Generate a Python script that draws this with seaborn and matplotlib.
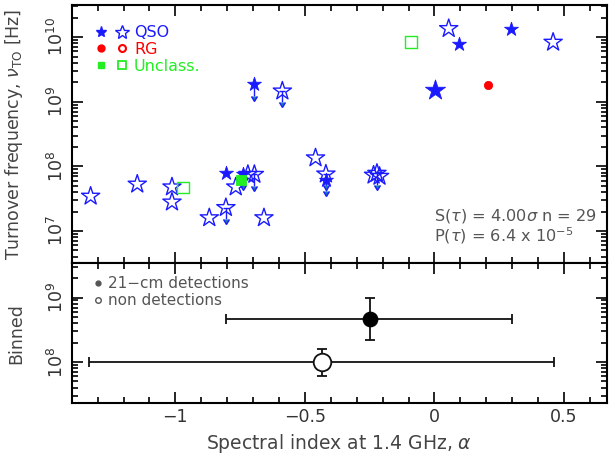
import numpy as np
import pandas as pd
import matplotlib
matplotlib.use("Agg")
import matplotlib.pyplot as plt
import seaborn as sns
from matplotlib.lines import Line2D
from matplotlib.legend_handler import HandlerTuple
from matplotlib.ticker import LogLocator, LogFormatterMathtext, MultipleLocator, NullFormatter

# ---------------- data ----------------
alpha = [-0.698, -0.587, -0.090, 0.055, 0.093, 0.004, 0.205, 0.295, 0.458,
         -1.327, -1.147, -1.013, -0.970, -1.013, -0.869, -0.805, -0.805, -0.767,
         -0.746, -0.740, -0.720, -0.695, -0.658, -0.459, -0.419, -0.419, -0.222,
         -0.235, -0.212]
nu_to = [1.86e9, 1.46e9, 8.3e9, 1.35e10, 7.7e9, 1.5e9, 1.79e9, 1.35e10, 8.3e9,
         3.45e7, 5.3e7, 4.8e7, 4.7e7, 2.8e7, 1.6e7, 2.3e7, 8.0e7, 4.8e7,
         6.1e7, 7.6e7, 7.5e7, 7.5e7, 1.6e7, 1.35e8, 7.6e7, 6.1e7, 7.8e7,
         7.3e7, 7.0e7]
obj_class = ["QSO", "QSO", "Unclass.", "QSO", "QSO", "QSO", "RG", "QSO", "QSO",
             "QSO", "QSO", "QSO", "Unclass.", "QSO", "QSO", "QSO", "QSO", "QSO",
             "Unclass.", "QSO", "QSO", "QSO", "QSO", "QSO", "QSO", "QSO", "QSO",
             "QSO", "QSO"]
detected = [True, False, False, False, True, True, True, True, False,
            False, False, False, False, False, False, False, True, False,
            True, True, False, False, False, False, False, True, False,
            False, False]
upper_limit = [True, True, False, False, False, False, False, False, False,
               False, False, False, False, False, False, True, False, False,
               False, True, False, True, False, False, True, True, True,
               False, False]
big_marker = [False, False, False, False, False, True, False, False, False,
              False, False, False, False, False, False, False, False, False,
              False, False, False, False, False, False, False, False, False,
              False, False]

# binned values
bin_labels = ["21\u2212cm detections", "non detections"]
bin_alpha = [-0.25, -0.434]
bin_alpha_lo = [-0.805, -1.333]
bin_alpha_hi = [0.300, 0.463]
bin_nu = [4.6e8, 1.0e8]
bin_nu_lo = [2.2e8, 6.0e7]
bin_nu_hi = [1.0e9, 1.62e8]

stat_line1 = r"S($\tau$) = 4.00$\sigma$ n = 29"
stat_line2 = r"P($\tau$) = 6.4 x 10$^{-5}$"

df = pd.DataFrame(dict(alpha=alpha, nu=nu_to, cls=obj_class, det=detected,
                       lim=upper_limit, big=big_marker))

colors = {"QSO": "#1a1aff", "RG": "#ff0000", "Unclass.": "#22ee22"}
markers = {"QSO": "*", "RG": "o", "Unclass.": "s"}

# ---------------- style ----------------
sns.set_style("ticks")
plt.rcParams["font.family"] = ["DejaVu Sans"]
plt.rcParams["mathtext.fontset"] = "dejavusans"
txtcol = "#444444"

fig = plt.figure(figsize=(6.16, 4.62), dpi=100)
L, R = 0.1164, 0.985
ax1 = fig.add_axes([L, 0.430, R - L, 0.9898 - 0.430])
ax2 = fig.add_axes([L, 0.127, R - L, 0.430 - 0.127])

# ---------------- top panel ----------------
for cls in ["QSO", "RG", "Unclass."]:
    for det in [True, False]:
        for big in [False, True]:
            sub = df[(df.cls == cls) & (df.det == det) & (df.big == big)]
            if sub.empty:
                continue
            m = markers[cls]
            if m == "*":
                size = 230 if big else (110 if det else 190)
            elif m == "o":
                size = 35
            else:
                size = 45 if det else 70
            if det:
                sns.scatterplot(data=sub, x="alpha", y="nu", ax=ax1, marker=m, s=size,
                                color=colors[cls], edgecolor=colors[cls], linewidth=0.6,
                                zorder=3, legend=False)
            else:
                sns.scatterplot(data=sub, x="alpha", y="nu", ax=ax1, marker=m, s=size,
                                facecolor="none", edgecolor=colors[cls], linewidth=1.0,
                                zorder=3, legend=False)

lim = df[df.lim]
lim_frac = 0.33
ax1.errorbar(lim.alpha, lim.nu, yerr=[lim.nu * lim_frac, np.zeros(len(lim))],
             uplims=True, fmt="none", ecolor=colors["QSO"], elinewidth=1.0,
             capsize=2.5, zorder=2)

ax1.set_yscale("log")
ax1.set_xlim(-1.4, 0.665)
ax1.set_ylim(10 ** 6.5, 10 ** 10.5)
ax1.set_xlabel("")
ax1.set_ylabel(r"Turnover frequency, $\nu_{\rm TO}$ [Hz]", fontsize=12.5, color=txtcol)
ax1.yaxis.set_label_coords(-0.087, 0.5)
ax1.tick_params(labelbottom=False)

# legend top
h_qso = (Line2D([], [], ls="none", marker="*", ms=8, color=colors["QSO"]),
         Line2D([], [], ls="none", marker="*", ms=10, mfc="none", mec=colors["QSO"], mew=1.0))
h_rg = (Line2D([], [], ls="none", marker="o", ms=5, color=colors["RG"]),
        Line2D([], [], ls="none", marker="o", ms=5, mfc="none", mec=colors["RG"], mew=1.5))
h_un = (Line2D([], [], ls="none", marker="s", ms=5, color=colors["Unclass."]),
        Line2D([], [], ls="none", marker="s", ms=6, mfc="none", mec=colors["Unclass."], mew=1.3))
leg = ax1.legend([h_qso, h_rg, h_un], ["QSO", "RG", "Unclass."],
                 handler_map={tuple: HandlerTuple(ndivide=None, pad=0.6)},
                 loc="upper left", bbox_to_anchor=(0.045, 0.92), frameon=False,
                 fontsize=11.5, handlelength=2.0, handletextpad=0.4, labelspacing=0.1,
                 borderpad=0, borderaxespad=0)
for t, c in zip(leg.get_texts(), ["QSO", "RG", "Unclass."]):
    t.set_color(colors[c])

ax1.text(0.677, 0.184, stat_line1, transform=ax1.transAxes, fontsize=11.6,
         color="#555555", va="center", ha="left")
ax1.text(0.677, 0.107, stat_line2, transform=ax1.transAxes, fontsize=11.6,
         color="#555555", va="center", ha="left")

# ---------------- bottom panel ----------------
bdf = pd.DataFrame(dict(label=bin_labels, alpha=bin_alpha, nu=bin_nu))
for i in range(len(bin_labels)):
    xe = [[bin_alpha[i] - bin_alpha_lo[i]], [bin_alpha_hi[i] - bin_alpha[i]]]
    ye = [[bin_nu[i] - bin_nu_lo[i]], [bin_nu_hi[i] - bin_nu[i]]]
    ax2.errorbar([bin_alpha[i]], [bin_nu[i]], xerr=xe, yerr=ye, fmt="none",
                 ecolor="#111111", elinewidth=1.3, capsize=3.5, capthick=1.3, zorder=2)
sns.scatterplot(data=bdf.iloc[[0]], x="alpha", y="nu", ax=ax2, marker="o", s=110,
                color="black", edgecolor="black", zorder=3, legend=False)
sns.scatterplot(data=bdf.iloc[[1]], x="alpha", y="nu", ax=ax2, marker="o", s=160,
                facecolor="white", edgecolor="#111111", linewidth=1.3, zorder=3, legend=False)

ax2.set_yscale("log")
ax2.set_xlim(-1.4, 0.665)
ax2.set_ylim(10 ** 7.36, 10 ** 9.53)
ax2.set_xlabel(r"Spectral index at 1.4 GHz, $\alpha$", fontsize=13.5, color=txtcol)
ax2.set_ylabel("Binned", fontsize=12.5, color=txtcol)
ax2.yaxis.set_label_coords(-0.087, 0.5)

h_det = Line2D([], [], ls="none", marker="o", ms=3.5, color="#555555")
h_non = Line2D([], [], ls="none", marker="o", ms=4, mfc="none", mec="#555555", mew=1.0)
leg2 = ax2.legend([h_det, h_non], bin_labels, loc="upper left",
                  bbox_to_anchor=(0.04, 0.91), frameon=False, fontsize=11,
                  handlelength=0.6, handletextpad=0.4, labelspacing=0.15,
                  borderpad=0, borderaxespad=0)
for t in leg2.get_texts():
    t.set_color("#555555")

# ---------------- axes styling ----------------
for ax in (ax1, ax2):
    for sp in ax.spines.values():
        sp.set_linewidth(1.5)
        sp.set_color("black")
        sp.set_visible(True)
    ax.xaxis.set_major_locator(MultipleLocator(0.5))
    ax.xaxis.set_minor_locator(MultipleLocator(0.1))
    ax.yaxis.set_major_locator(LogLocator(base=10, numticks=20))
    ax.yaxis.set_minor_locator(LogLocator(base=10, subs=np.arange(2, 10), numticks=20))
    ax.yaxis.set_major_formatter(LogFormatterMathtext())
    ax.yaxis.set_minor_formatter(NullFormatter())
    ax.tick_params(which="both", direction="in", top=True, right=True,
                   colors="black", labelcolor="#333333", labelsize=12.5, width=1.2)
    ax.tick_params(which="major", length=8)
    ax.tick_params(which="minor", length=4)
    ax.grid(False)

ax2.xaxis.set_major_formatter(matplotlib.ticker.FuncFormatter(
    lambda v, p: "0" if abs(v) < 1e-9 else ("\u2212" + f"{abs(v):g}" if v < 0 else f"{v:g}")))
for lab in ax1.get_yticklabels() + ax2.get_yticklabels():
    lab.set_rotation(90)
    lab.set_va("center")

fig.savefig("out.png", dpi=100)
